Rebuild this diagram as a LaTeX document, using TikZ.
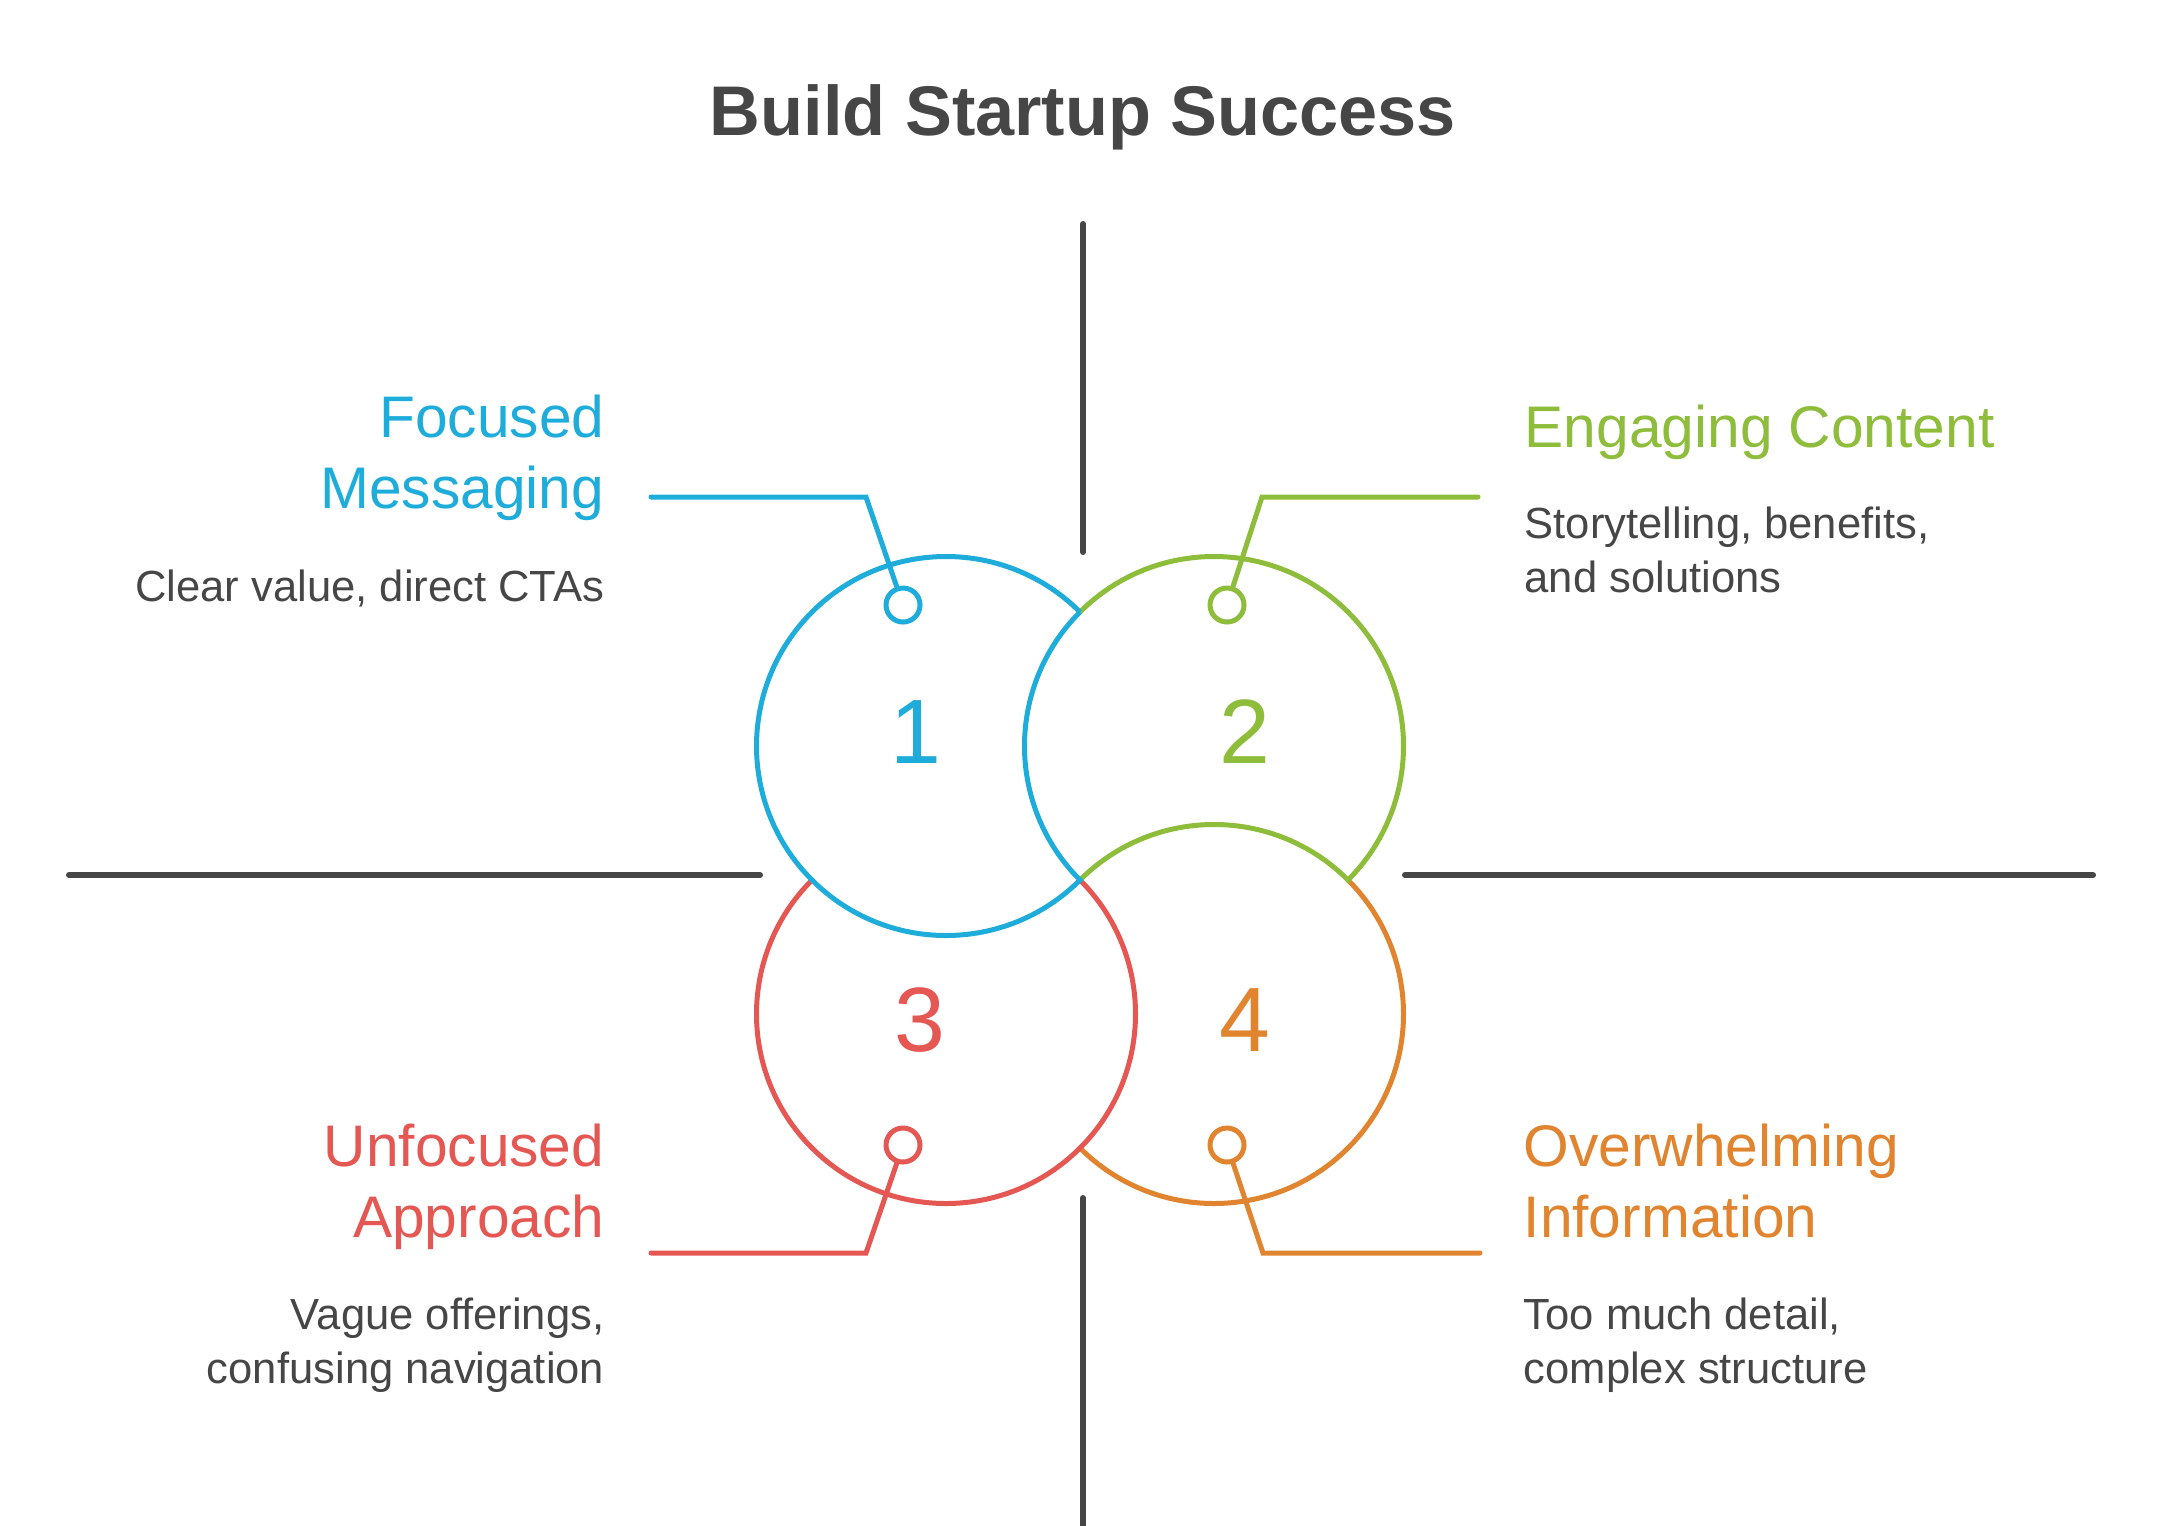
\documentclass[tikz,border=0pt]{standalone}
\usepackage{fontspec}
\setmainfont{Liberation Sans}
\usepackage{tikz}
\usetikzlibrary{calc}

\definecolor{cblue}{HTML}{1EACDB}
\definecolor{cgreen}{HTML}{8DBD3A}
\definecolor{cred}{HTML}{E55752}
\definecolor{corange}{HTML}{E08430}
\definecolor{cgray}{HTML}{464646}

\tikzset{
  ring/.style={line width=0.5mm},
  axis/.style={cgray, line width=0.6mm, line cap=round},
  lead/.style={line width=0.5mm, line cap=round},
  knob/.style={circle, draw, line width=0.5mm, minimum size=3.4mm, inner sep=0pt},
  head/.style={inner sep=0pt, font=\fontsize{16.7}{20.2}\selectfont},
  desc/.style={inner sep=0pt, text=cgray, font=\fontsize{12.4}{15.2}\selectfont},
  num/.style={inner sep=0pt, anchor=base, font=\fontsize{26}{30}\selectfont}
}

\begin{document}
\begin{tikzpicture}[x=0.1mm, y=-0.1mm]
        \useasboundingbox (0,0) rectangle (2163,1525);
        \def\R{189.5}
        \coordinate (c1) at (946,746);
        \coordinate (c2) at (1214,746);
        \coordinate (c3) at (946,1014);
        \coordinate (c4) at (1214,1014);

        % title
        \node[inner sep=0pt, anchor=base, text=cgray, font=\bfseries\fontsize{20}{24}\selectfont] (title) at (1083,135) {Build Startup Success};

        % axes
        \draw[axis] (1083,224) -- (1083,552);
        \draw[axis] (1083,1198) -- (1083,1535);
        \draw[axis] (69,875) -- (760,875);
        \draw[axis] (1405,875) -- (2093,875);

        %% rings
        \draw[ring, corange] ($(c4)+(-225:\R)$) arc[start angle=-225, end angle=-405, radius=\R];
        \draw[ring, cred] ($(c3)+(-135:\R)$) arc[start angle=-135, end angle=-405, radius=\R];
        \draw[ring, cgreen] ($(c2)+(-135:\R)$) arc[start angle=-135, end angle=45, radius=\R]
                arc[start angle=-45, end angle=-135, radius=\R];
        \draw[ring, cblue] ($(c1)+(-45:\R)$) arc[start angle=-45, end angle=-315, radius=\R]
                arc[start angle=-225, end angle=-135, radius=\R];

        % numbers
        \node[num, text=cblue] (n1) at (916,763) {1};
        \node[num, text=cgreen] (n2) at (1245,763) {2};
        \node[num, text=cred] (n3) at (920,1051) {3};
        \node[num, text=corange] (n4) at (1245,1051) {4};

        % knobs
        \node[knob, draw=cblue] (k1) at (903,605) {};
        \node[knob, draw=cgreen] (k2) at (1227,605) {};
        \node[knob, draw=cred] (k3) at (903,1145) {};
        \node[knob, draw=corange] (k4) at (1227,1145) {};

        %% leaders
        \coordinate (l1) at (651,497);
        \coordinate (b1) at (866,497);
        \coordinate (l2) at (1478,497);
        \coordinate (b2) at (1262,497);
        \coordinate (l3) at (651,1253);
        \coordinate (b3) at (866,1253);
        \coordinate (l4) at (1480,1253);
        \coordinate (b4) at (1263,1253);
        \draw[lead, cblue] (l1) -- (b1) -- (k1);
        \draw[lead, cgreen] (l2) -- (b2) -- (k2);
        \draw[lead, cred] (l3) -- (b3) -- (k3);
        \draw[lead, corange] (l4) -- (b4) -- (k4);

        % labels (base = last line)
        \node[head, text=cblue, anchor=base east, align=right] (h1) at (605,508) {Focused\\Messaging};
        \node[desc, anchor=base east, align=right] (d1) at (605,601) {Clear value, direct CTAs};
        \node[head, text=cgreen, anchor=base west, align=left] (h2) at (1524,447) {Engaging Content};
        \node[desc, anchor=base west, align=left] (d2) at (1524,592) {Storytelling, benefits,\\and solutions};
        \node[head, text=cred, anchor=base east, align=right] (h3) at (605,1237) {Unfocused\\Approach};
        \node[desc, anchor=base east, align=right] (d3) at (605,1383) {Vague offerings,\\confusing navigation};
        \node[head, text=corange, anchor=base west, align=left] (h4) at (1523,1237) {Overwhelming\\Information};
        \node[desc, anchor=base west, align=left] (d4) at (1523,1383) {Too much detail,\\complex structure};
\end{tikzpicture}
\end{document}
